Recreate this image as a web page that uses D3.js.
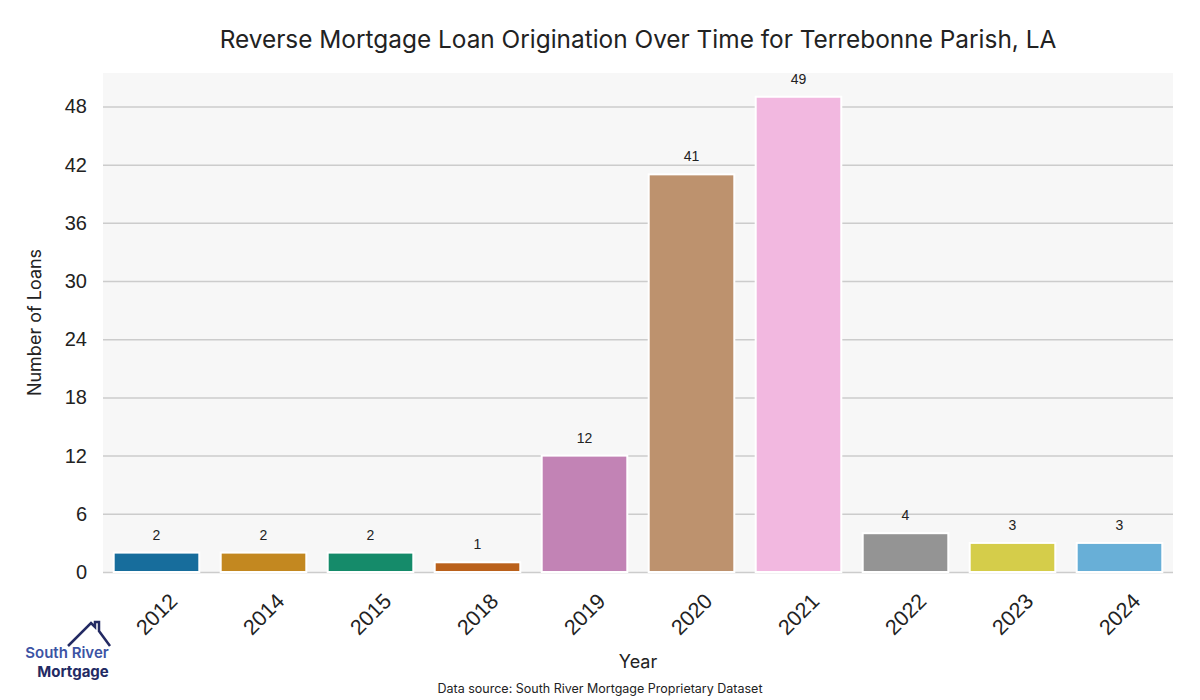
<!DOCTYPE html>
<html><head><meta charset="utf-8">
<script src="https://cdn.jsdelivr.net/npm/d3@7"></script>
<style>body{margin:0;background:#fff}</style>
</head><body>
<script>
const years = ["2012","2014","2015","2018","2019","2020","2021","2022","2023","2024"];
const loans = [2,2,2,1,12,41,49,4,3,3];
const baseColors = ["#0173b2","#de8f05","#029e73","#d55e00","#cc78bc","#ca9161","#fbafe4","#949494","#ece133","#56b4e9"];
const yTicks = [0,6,12,18,24,30,36,42,48];

const W=1200,H=700;
const m={l:103,r:1173,t:73,b:572};
const svg=d3.select("body").append("svg").attr("width",W).attr("height",H);
const x=d3.scaleBand().domain(years).range([m.l,m.r]).paddingInner(0.2).paddingOuter(0.1);
const y=d3.scaleLinear().domain([0,51.45]).range([m.b,m.t]);
const color=baseColors.map(c=>{const h=d3.hsl(c);h.s*=0.75;return h.formatHex();});

svg.append("rect").attr("x",m.l).attr("y",m.t).attr("width",m.r-m.l).attr("height",m.b-m.t).attr("fill","#f7f7f7");

const ya=svg.append("g").attr("transform",`translate(${m.l},0)`)
 .call(d3.axisLeft(y).tickValues(yTicks).tickSize(-(m.r-m.l)).tickPadding(16));
ya.select(".domain").remove();
ya.selectAll("line").attr("stroke","#cccccc").attr("stroke-width",1.5);
ya.selectAll("text").attr("font-family","Liberation Sans, Arial").attr("font-size",20).attr("fill","#222");

svg.append("g").selectAll("rect").data(years).join("rect")
 .attr("x",d=>x(d)).attr("width",x.bandwidth())
 .attr("y",(d,i)=>y(loans[i])).attr("height",(d,i)=>y(0)-y(loans[i]))
 .attr("fill",(d,i)=>color[i]).attr("stroke","#fff").attr("stroke-width",2);

svg.append("g").selectAll("text").data(years).join("text")
 .attr("x",d=>x(d)+x.bandwidth()/2).attr("y",(d,i)=>y(loans[i])-13)
 .attr("text-anchor","middle").attr("font-family","Liberation Sans, Arial").attr("font-size",14).attr("fill","#222")
 .text((d,i)=>loans[i]);

const xa=svg.append("g").attr("transform",`translate(0,${m.b})`).call(d3.axisBottom(x).tickSize(0).tickFormat(""));
xa.select(".domain").remove();
svg.append("g").selectAll("text").data(years).join("text")
 .attr("transform",d=>`translate(${x(d)+x.bandwidth()/2},${614}) rotate(-45)`)
 .attr("text-anchor","middle").attr("dy","0.35em")
 .attr("font-family","Liberation Sans, Arial").attr("font-size",21.5).attr("fill","#222").text(d=>d);

svg.append("text").attr("x",(m.l+m.r)/2).attr("y",48).attr("text-anchor","middle")
 .attr("font-family","Inter, Lato, sans-serif").attr("font-size",24.4).attr("fill","#222")
 .text("Reverse Mortgage Loan Origination Over Time for Terrebonne Parish, LA");
svg.append("text").attr("transform",`translate(41,${(m.t+m.b)/2}) rotate(-90)`).attr("text-anchor","middle")
 .attr("font-family","Inter, Lato, sans-serif").attr("font-size",18).attr("fill","#222").text("Number of Loans");
svg.append("text").attr("x",(m.l+m.r)/2).attr("y",668).attr("text-anchor","middle")
 .attr("font-family","Inter, Lato, sans-serif").attr("font-size",18).attr("fill","#222").text("Year");
svg.append("text").attr("x",600).attr("y",693).attr("text-anchor","middle")
 .attr("font-family","Inter, Lato, sans-serif").attr("font-size",12.5).attr("fill","#222").text("Data source: South River Mortgage Proprietary Dataset");

// logo
const lg=svg.append("g");
lg.append("path").attr("d","M68,646 L91,623 L95,627 L95,622 L99,622 L99,631 L110,646")
 .attr("fill","none").attr("stroke","#232a63").attr("stroke-width",2.5).attr("stroke-linejoin","miter");
lg.append("text").attr("x",67).attr("y",658).attr("text-anchor","middle").attr("font-family","Inter, Lato, sans-serif")
 .attr("font-weight",600).attr("font-size",15).attr("fill","#3c53a4").text("South River");
lg.append("text").attr("x",73).attr("y",677).attr("text-anchor","middle").attr("font-family","Inter, Lato, sans-serif")
 .attr("font-weight",700).attr("font-size",15).attr("fill","#232a63").text("Mortgage");
</script>
</body></html>
